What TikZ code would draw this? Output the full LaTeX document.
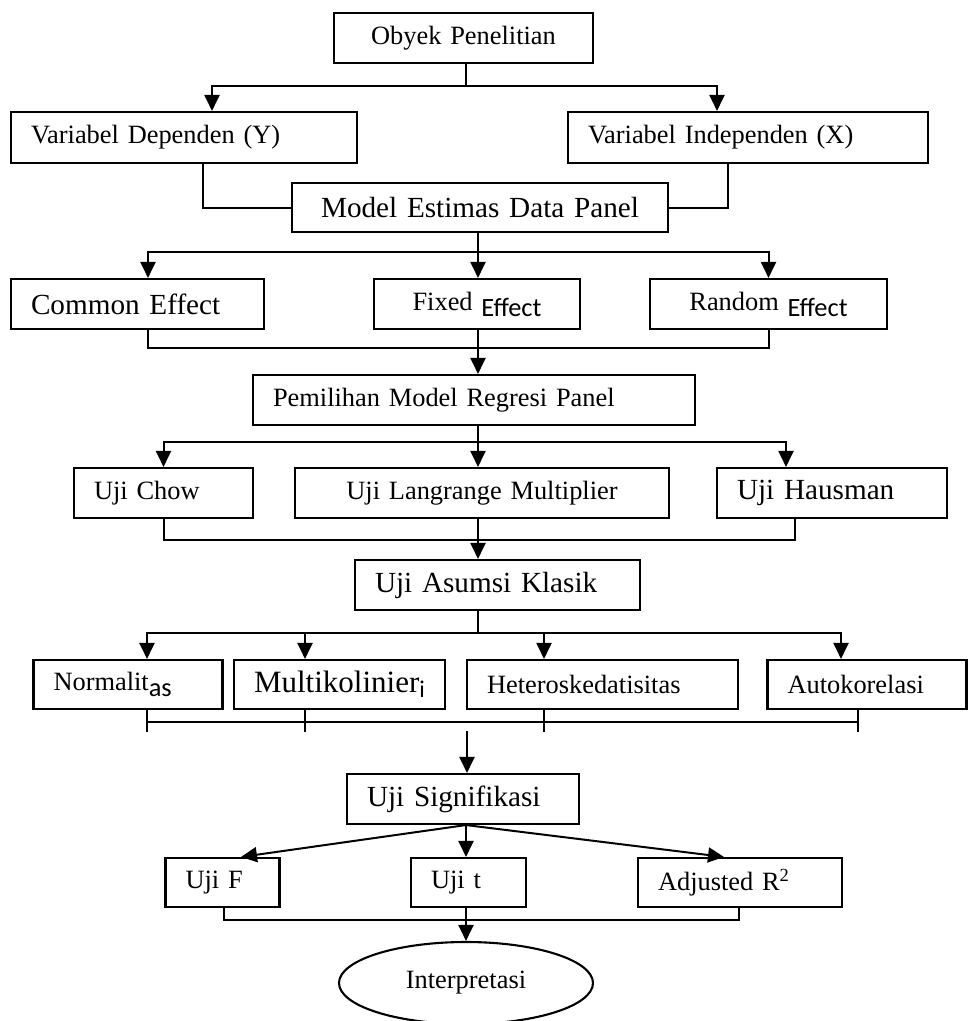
\documentclass[tikz,border=0pt]{standalone}
\usepackage{fontspec}
\setmainfont{Liberation Serif}
\newfontfamily\calibrifont{Carlito}
\usetikzlibrary{positioning, shapes.geometric, arrows.meta, calc}

\newcommand{\calsub}[1]{\raisebox{-6pt}{\calibrifont #1}}

\begin{document}
\begin{tikzpicture}[
    x=1pt, y=-1pt,
    box/.style={draw, line width=2.1pt, inner xsep=20pt, inner ysep=0pt, align=left, minimum height=50pt, font=\fontsize{26.4}{30}\selectfont},
    big/.style={font=\fontsize{29.2}{34}\selectfont},
    centred/.style={align=center},
    oval/.style={ellipse, draw, line width=2.1pt, minimum width=254pt, minimum height=82pt, inner sep=0pt, font=\fontsize{26.4}{30}\selectfont},
    line/.style={line width=2pt},
    tick/.style={line width=1.6pt},
    arrow/.style={-{Triangle[length=16pt, width=15pt]}, line width=2pt}
  ]
    \useasboundingbox (0,0) rectangle (968,1021);

    % Object and variables
    \node[box, centred, text width=219pt] (obyek) at (463.5,38) {Obyek Penelitian};
    \node[box, text width=306pt, minimum height=51pt] (dep) at (184,137.5) {Variabel Dependen (Y)};
    \node[box, text width=320pt, minimum height=51pt] (indep) at (748,137.5) {Variabel Independen (X)};
    \node[box, big, centred, text width=336pt, minimum height=49pt] (model) at (480,207.5) {Model Estimas Data Panel};

    % Estimation models
    \node[box, big, text width=213pt] (common) at (137.5,304) {Common Effect};
    \node[box, centred, text width=166pt] (fixed) at (477,304) {Fixed \calsub{Effect}};
    \node[box, centred, text width=197pt] (random) at (768.5,304) {Random \calsub{Effect}};
    \node[box, text width=402pt] (pemilihan) at (474,400) {Pemilihan Model Regresi Panel};

    % Model tests
    \node[box, text width=139pt] (chow) at (163.5,493) {Uji Chow};
    \node[box, centred, text width=334pt] (lm) at (482,493) {Uji Langrange Multiplier};
    \node[box, big, text width=190pt] (hausman) at (832,493) {Uji Hausman};
    \node[box, big, text width=245pt] (asumsi) at (497.5,585) {Uji Asumsi Klasik};

    % Classical assumptions
    \node[box, text width=149pt, minimum height=49pt] (normal) at (128,684.5) {Normalit\calsub{as}};
    \node[box, text width=171pt, minimum height=49pt, font=\fontsize{31}{36}\selectfont] (multi) at (339.5,684.5) {Multikolinier\raisebox{-5pt}{\fontsize{24}{28}\selectfont\calibrifont i}};
    \node[box, text width=231pt, minimum height=49pt] (hetero) at (602.5,684.5) {Heteroskedatisitas};
    \node[box, text width=159pt, minimum height=49pt] (auto) at (867,684.5) {Autokorelasi};

    % Significance tests
    \node[box, big, text width=192pt] (signif) at (463,799) {Uji Signifikasi};
    \node[box, text width=74pt, minimum height=49pt] (ujif) at (222.5,882.5) {Uji F};
    \node[box, text width=75pt, minimum height=49pt] (ujit) at (468.5,882.5) {Uji t};
    \node[box, text width=164pt, minimum height=49pt] (adj) at (740,882.5) {Adjusted R\textsuperscript{2}};
    \node[oval] (interp) at (466,983) {Interpretasi};

    % Connections
    \draw[line] ([xshift=2.5pt]obyek.south) -- ++(0,22) coordinate (s1);
    \draw[arrow] (s1) -| ([xshift=28pt]dep.north);
    \draw[arrow] (s1) -| ([xshift=-31pt]indep.north);
    \draw[line] ([xshift=19pt]dep.south) |- (model.west);
    \draw[line] ([xshift=-20pt]indep.south) |- (model.east);

    \draw[line] ([xshift=-2pt]model.south) -- ++(0,19) coordinate (s2);
    \draw[arrow] (s2) -| ([xshift=10.5pt]common.north);
    \draw[arrow] (s2) -- (s2 |- fixed.north);
    \draw[arrow] (s2) -| (random.north);
    \draw[line] ([xshift=10.5pt]common.south) -- ++(0,18) -| (random.south);
    \draw[arrow] (s2 |- fixed.south) -- (s2 |- pemilihan.north);

    \draw[line] ([xshift=4pt]pemilihan.south) -- ++(0,16) coordinate (s3);
    \draw[arrow] (s3) -| (chow.north);
    \draw[arrow] (s3) -- (s3 |- lm.north);
    \draw[arrow] (s3) -| ([xshift=-46pt]hausman.north);
    \draw[line] (chow.south) -- ++(0,21) -| ([xshift=-37pt]hausman.south);
    \draw[arrow] (s3 |- lm.south) -- (s3 |- asumsi.north);

    \draw[line] (s3 |- asumsi.south) -- ++(0,22) coordinate (s4);
    \foreach \n/\dx in {normal/19, multi/-34.5, hetero/-58.5, auto/-26} {
      \draw[arrow] (s4) -| ([xshift=\dx pt]\n.north);
    }

    % Bracket under the assumptions
    \foreach \n/\dx in {normal/19, multi/-34.5, hetero/-58.5, auto/-9} {
      \draw[tick] ([xshift=\dx pt, yshift=2pt]\n.south) -- ++(0,24);
    }
    \draw[tick] ([xshift=19pt, yshift=-12pt]normal.south) -- ([xshift=-9pt, yshift=-12pt]auto.south);
    \coordinate (k) at (467,731);
    \draw[arrow] (k) -- (k |- signif.north);

    \coordinate (s5) at ([xshift=3pt]signif.south);
    \draw[arrow] (s5) -- ([xshift=18.5pt]ujif.north);
    \draw[arrow] (s5) -- (s5 |- ujit.north);
    \draw[arrow] (s5) -- ([xshift=-16pt]adj.north);
    \draw[line] ([xshift=1.5pt]ujif.south) -- ++(0,12) -| ([xshift=-1pt]adj.south);
    \draw[arrow] (s5 |- ujit.south) -- (s5 |- interp.north);
  \end{tikzpicture}
\end{document}
